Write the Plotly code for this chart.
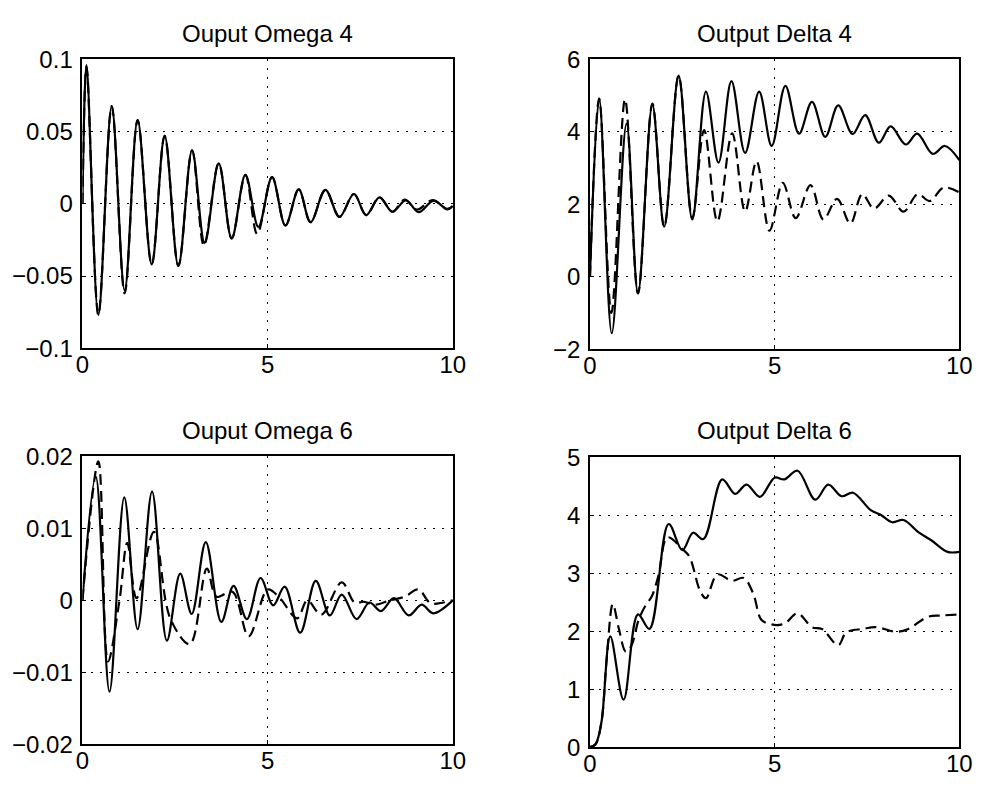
import plotly.graph_objects as go

# ---------------- data ----------------
x_ticks = [0, 5, 10]
x_tick_text = ["0", "5", "10"]

titles = ["Ouput Omega 4", "Output Delta 4", "Ouput Omega 6", "Output Delta 6"]

om4_y_ticks = [-0.1, -0.05, 0, 0.05, 0.1]
d4_y_ticks = [-2, 0, 2, 4, 6]
om6_y_ticks = [-0.02, -0.01, 0, 0.01, 0.02]
d6_y_ticks = [0, 1, 2, 3, 4, 5]

# Omega 4
om4_t_solid = [0, 0.11, 0.43, 0.79, 1.14, 1.49, 1.87, 2.22, 2.59, 2.96, 3.30, 3.68, 4.03, 4.40,
               4.75, 5.12, 5.48, 5.84, 6.16, 6.56, 6.94, 7.33, 7.66, 8.02, 8.37, 8.73, 9.08,
               9.48, 9.85, 10.0]
om4_y_solid = [0, 0.096, -0.077, 0.0676, -0.060, 0.058, -0.042, 0.047, -0.043, 0.037, -0.027,
               0.028, -0.024, 0.020, -0.016, 0.0185, -0.015, 0.010, -0.0127, 0.0096, -0.009,
               0.0068, -0.0078, 0.0045, -0.0055, 0.0024, -0.0058, 0.0022, -0.0038, -0.0016]
om4_t_dash = [0, 0.11, 0.43, 0.79, 1.14, 1.49, 1.87, 2.22, 2.59, 2.96, 3.28, 3.68, 4.03, 4.40,
              4.72, 5.12, 5.48, 5.84, 6.16, 6.56, 6.94, 7.33, 7.66, 8.02, 8.37, 8.70, 9.03,
              9.45, 9.85, 10.0]
om4_y_dash = [0, 0.095, -0.077, 0.0676, -0.062, 0.058, -0.042, 0.047, -0.043, 0.037, -0.029,
              0.028, -0.024, 0.020, -0.021, 0.0185, -0.015, 0.010, -0.0127, 0.0096, -0.009,
              0.0068, -0.0078, 0.0045, -0.0055, 0.0030, -0.0040, 0.0025, -0.0035, -0.0015]

# Delta 4
d4_t_solid = [0, 0.25, 0.59, 0.99, 1.30, 1.69, 2.01, 2.40, 2.77, 3.14, 3.48, 3.83, 4.20, 4.58,
              4.92, 5.29, 5.66, 6.01, 6.37, 6.72, 7.11, 7.45, 7.82, 8.14, 8.55, 8.86, 9.28,
              9.61, 10.0]
d4_y_solid = [0, 4.92, -1.56, 4.23, -0.46, 4.75, 1.38, 5.55, 1.58, 5.11, 3.15, 5.40, 3.42,
              5.11, 3.61, 5.27, 3.95, 4.83, 3.86, 4.73, 3.94, 4.46, 3.70, 4.15, 3.65, 3.95,
              3.39, 3.61, 3.22]
d4_t_dash = [0, 0.25, 0.58, 0.95, 1.30, 1.69, 2.01, 2.40, 2.77, 3.09, 3.45, 3.85, 4.20, 4.51,
             4.86, 5.22, 5.57, 5.97, 6.32, 6.69, 7.05, 7.37, 7.69, 8.09, 8.49, 8.87, 9.20,
             9.57, 10.0]
d4_y_dash = [0, 4.92, -1.0, 4.9, -0.46, 4.78, 1.38, 5.55, 1.62, 4.05, 1.53, 3.96, 1.80, 3.19,
             1.27, 2.59, 1.62, 2.53, 1.58, 2.15, 1.47, 2.28, 1.88, 2.24, 1.80, 2.28, 2.09,
             2.46, 2.33]

# Omega 6
om6_t_solid = [0, 0.36, 0.73, 1.13, 1.49, 1.88, 2.28, 2.64, 2.95, 3.33, 3.75, 4.08, 4.44,
               4.81, 5.15, 5.46, 5.88, 6.30, 6.68, 7.00, 7.40, 7.75, 8.06, 8.41, 8.81, 9.16,
               9.47, 10.0]
om6_y_solid = [0, 0.0172, -0.0127, 0.0143, -0.0040, 0.0151, -0.0056, 0.0037, -0.0019, 0.0081,
               -0.0030, 0.0020, -0.0026, 0.0031, -0.0007, 0.0019, -0.0045, 0.0027, -0.0021,
               0.0008, -0.0026, -0.0003, -0.0015, 0.0003, -0.0021, -0.0006, -0.0018, 0.0]
om6_t_dash = [0, 0.43, 0.69, 1.0, 1.21, 1.46, 1.93, 2.37, 2.9, 3.36, 3.62, 4.05, 4.49, 5.0,
              5.3, 5.8, 6.07, 6.45, 7.0, 7.35, 7.6, 7.9, 8.3, 8.7, 9.07, 9.4, 9.75, 10.0]
om6_y_dash = [0, 0.0193, -0.0085, 0.0, 0.0080, 0.0003, 0.0095, -0.0025, -0.0061, 0.0044,
              0.0005, 0.0012, -0.0050, 0.0015, 0.0005, -0.0025, 0.0, -0.0020, 0.0025, -0.0003,
              -0.0002, -0.0006, 0.0, 0.0005, 0.0015, -0.0004, -0.0003, 0.0]

# Delta 6
d6_t_solid = [0, 0.15, 0.31, 0.55, 0.91, 1.30, 1.61, 2.13, 2.50, 2.79, 3.07, 3.58, 3.93, 4.24,
              4.60, 5.0, 5.26, 5.62, 6.10, 6.45, 6.81, 7.12, 7.60, 7.87, 8.18, 8.49, 8.89,
              9.24, 9.68, 10.0]
d6_y_solid = [0, 0.05, 0.43, 1.91, 0.82, 2.29, 2.04, 3.85, 3.40, 3.70, 3.59, 4.62, 4.37, 4.53,
              4.32, 4.65, 4.62, 4.77, 4.27, 4.53, 4.33, 4.39, 4.09, 4.01, 3.88, 3.92, 3.71,
              3.57, 3.37, 3.37]
d6_t_dash = [0, 0.15, 0.31, 0.45, 0.62, 0.78, 0.97, 1.12, 1.32, 1.50, 1.67, 1.85, 2.10, 2.50,
             2.69, 2.98, 3.14, 3.45, 3.84, 4.16, 4.42, 4.64, 4.91, 5.13, 5.31, 5.62, 6.01,
             6.28, 6.72, 6.94, 7.39, 7.74, 8.31, 8.62, 9.15, 9.5, 10.0]
d6_y_dash = [0, 0.05, 0.43, 1.5, 2.47, 2.05, 1.65, 1.75, 2.2, 2.44, 2.6, 2.95, 3.62, 3.42,
             3.29, 2.7, 2.57, 2.98, 2.87, 2.92, 2.65, 2.2, 2.12, 2.11, 2.15, 2.31, 2.07, 2.04,
             1.76, 1.98, 2.04, 2.07, 1.99, 2.04, 2.25, 2.27, 2.29]

# ---------------- figure ----------------
W, H = 989, 793
FONT = "Liberation Sans, Arial, Helvetica, sans-serif"

panels = [
    # (solid t, solid y, dash t, dash y, yrange, yticks, pixel box l, r, top, bottom)
    (om4_t_solid, om4_y_solid, om4_t_dash, om4_y_dash, [-0.1, 0.1], om4_y_ticks, 77, 455, 47, 346),
    (d4_t_solid, d4_y_solid, d4_t_dash, d4_y_dash, [-2, 6], d4_y_ticks, 595, 972, 47, 347),
    (om6_t_solid, om6_y_solid, om6_t_dash, om6_y_dash, [-0.02, 0.02], om6_y_ticks, 77, 455, 458, 756),
    (d6_t_solid, d6_y_solid, d6_t_dash, d6_y_dash, [0, 5], d6_y_ticks, 595, 972, 459, 759),
]

fig = go.Figure()
annotations = []
for i, (ts, ys, td, yd, yr, yt, l, r, top, bot) in enumerate(panels):
    n = "" if i == 0 else str(i + 1)
    xa, ya = "x" + n, "y" + n
    fig.add_trace(go.Scatter(x=td, y=yd, mode="lines", xaxis=xa, yaxis=ya,
                             line=dict(color="black", width=2.2, dash="11px,6px", shape="spline")))
    fig.add_trace(go.Scatter(x=ts, y=ys, mode="lines", xaxis=xa, yaxis=ya,
                             line=dict(color="black", width=2.2, shape="spline")))
    axis_common = dict(showline=True, linecolor="black", linewidth=1.8, mirror=True,
                       showgrid=True, gridcolor="black", gridwidth=1, griddash="2px,7px",
                       zeroline=False, ticks="inside", ticklen=4, tickcolor="black",
                       tickfont=dict(family=FONT, size=24, color="black"))
    fig.layout["xaxis" + n] = dict(domain=[l / W, r / W], range=[0, 10], anchor=ya,
                                   tickvals=x_ticks, ticktext=x_tick_text,
                                   ticklabelstandoff=-6, **axis_common)
    fig.layout["yaxis" + n] = dict(domain=[1 - bot / H, 1 - top / H], range=yr, anchor=xa,
                                   tickvals=yt, ticklabelstandoff=3, **axis_common)
    ty = 20 if i < 2 else 431
    annotations.append(dict(text=titles[i], xref="paper", yref="paper",
                            x=(l + r) / 2 / W, y=1 - ty / H, xanchor="center", yanchor="middle",
                            showarrow=False, font=dict(family=FONT, size=24, color="black")))

fig.update_layout(width=W, height=H, margin=dict(l=0, r=0, t=0, b=0),
                  paper_bgcolor="white", plot_bgcolor="white", showlegend=False,
                  annotations=annotations)
fig.write_html("out.html")
